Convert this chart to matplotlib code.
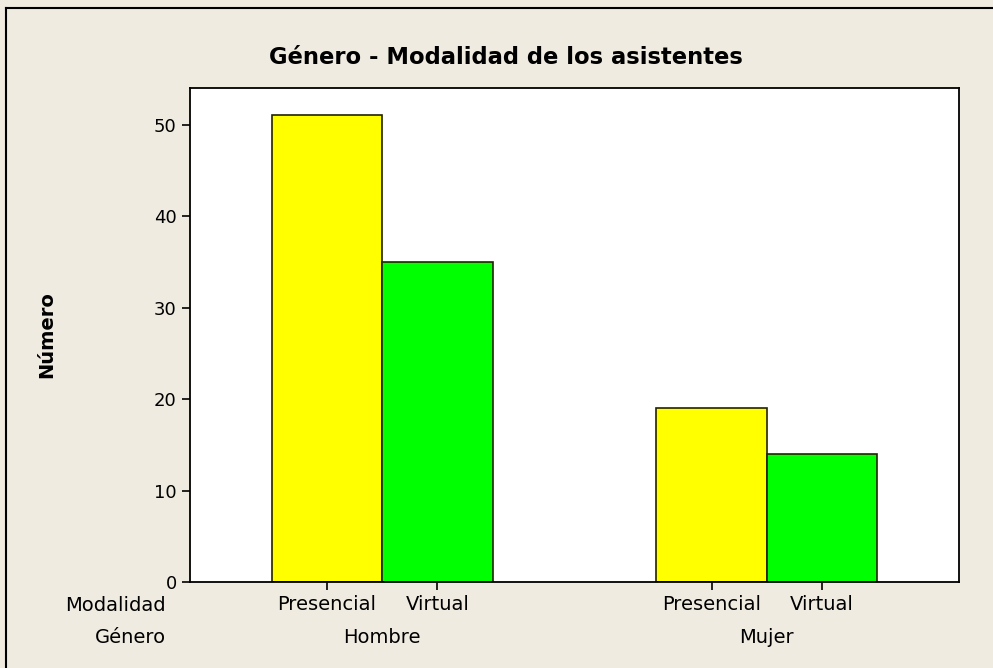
import matplotlib.pyplot as plt
from matplotlib.lines import Line2D

generos = ['Hombre', 'Mujer']
modalidades = ['Presencial', 'Virtual']
hombre = [51, 35]
mujer = [19, 14]
colores = ['#FFFF00', '#00FF00']

W, H = 993, 668
fig = plt.figure(figsize=(W / 100, H / 100), dpi=100)
fig.patch.set_facecolor('#EFEBE1')
plt.rcParams['font.family'] = ['DejaVu Sans']

# axes box in pixels: left 190, right 959, top 88, bottom 582
ax = fig.add_axes([190 / W, 1 - 582 / H, (959 - 190) / W, (582 - 88) / H])
ax.set_facecolor('white')

xfs = 14
group_start = [0, 3.48]
ticks, labels = [], []
for g, (start, vals) in enumerate(zip(group_start, [hombre, mujer])):
    for i, v in enumerate(vals):
        x = start + i
        ax.bar(x, v, width=1.0, color=colores[i], edgecolor='#222200', linewidth=1.2, zorder=2)
        ticks.append(x)
        labels.append(modalidades[i])
    ax.text(start + 0.5, -0.113, generos[g], transform=ax.get_xaxis_transform(),
            ha='center', va='center', fontsize=xfs)

ax.set_xlim(-1.24, 5.72)
ax.set_ylim(0, 54)
ax.set_xticks(ticks)
ax.set_xticklabels(labels)
ax.set_yticks([0, 10, 20, 30, 40, 50])
ax.tick_params(axis='both', direction='out', length=6, width=1.2)
ax.tick_params(axis='y', labelsize=13)
ax.tick_params(axis='x', labelsize=xfs, pad=3)
for s in ax.spines.values():
    s.set_linewidth(1.3)

ax.text(-0.031, -0.047, 'Modalidad', transform=ax.transAxes, ha='right', va='center', fontsize=xfs)
ax.text(-0.031, -0.113, 'Género', transform=ax.transAxes, ha='right', va='center', fontsize=xfs)

fig.text(506 / W, 1 - 58 / H, 'Género - Modalidad de los asistentes', ha='center', va='center',
         fontsize=16.3, fontweight='bold')
fig.text(47 / W, 1 - 335 / H, 'Número', rotation=90, ha='center', va='center',
         fontsize=14, fontweight='bold')

# outer frame (only top and left visible in the crop)
fig.add_artist(Line2D([6 / W, 6 / W], [0, 1 - 8 / H], color='black', linewidth=1.5))
fig.add_artist(Line2D([6 / W, 1], [1 - 8 / H, 1 - 8 / H], color='black', linewidth=1.5))

fig.savefig('out.png', dpi=100, facecolor=fig.get_facecolor())
